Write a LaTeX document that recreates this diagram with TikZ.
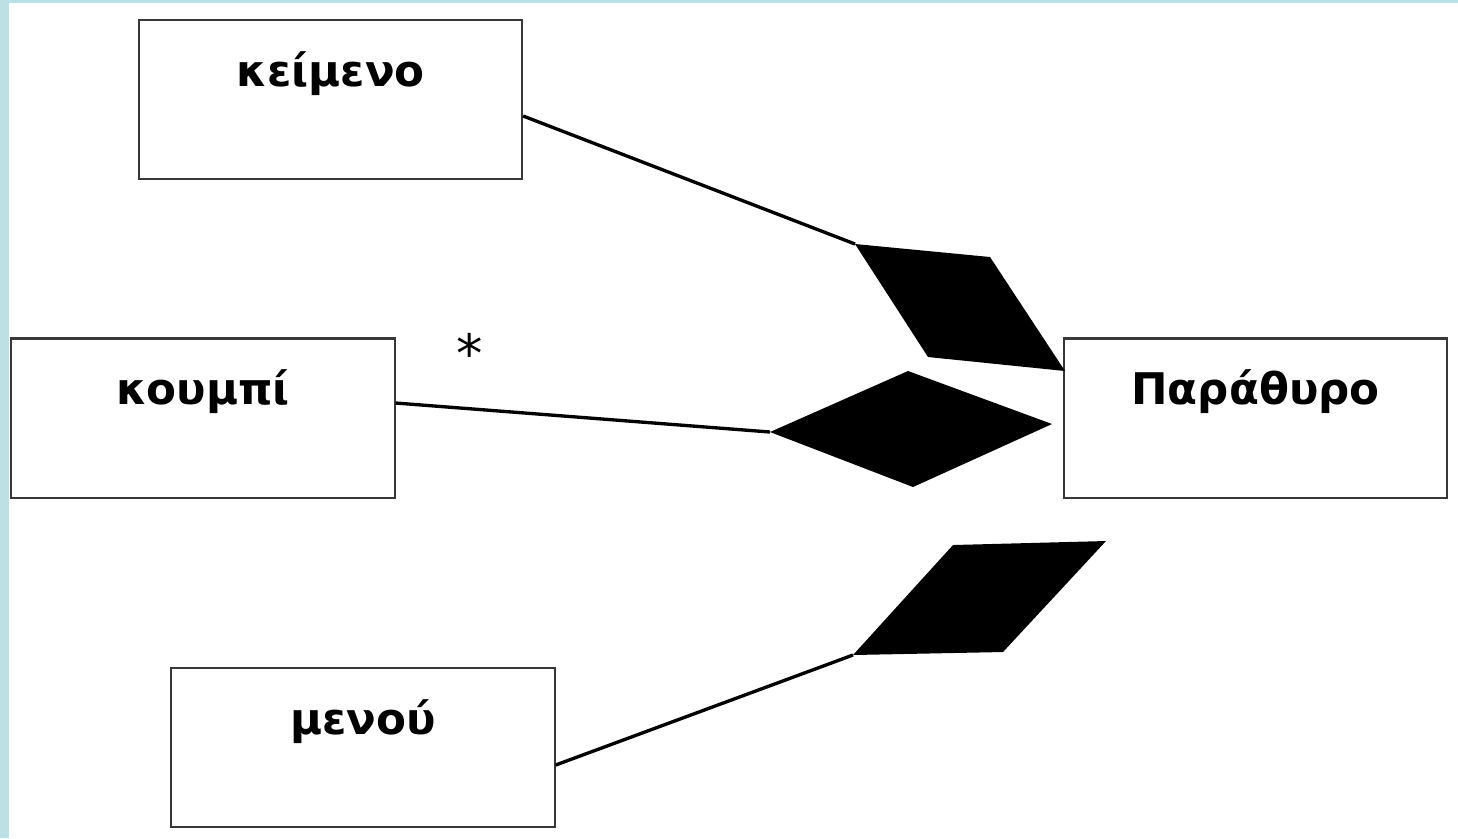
\documentclass[tikz,border=0pt]{standalone}
\usepackage{fontspec}
\setmainfont{DejaVu Sans}
\usepackage{xcolor}
\usepackage{tikz}
\usetikzlibrary{calc}

\definecolor{frameblue}{HTML}{BCE0E4}

\begin{document}
\begin{tikzpicture}[
  x=0.01cm, y=-0.01cm,
  box/.style={draw=black!78, line width=0.6pt, minimum width=3.83cm, minimum height=1.59cm, inner sep=0pt},
  lbl/.style={font=\bfseries\fontsize{12.4}{14}\selectfont, anchor=base, inner sep=0pt},
  link/.style={line width=0.95pt},
  dia/.style={fill=black}
]
\useasboundingbox (0,0) rectangle (1458,838);
\fill[frameblue] (0,0) rectangle (1458,838);
\fill[white] (8.5,2.5) rectangle (1458,838);

\node[box] (keimeno) at (330.5,99.5) {};
\node[box] (koumpi) at (203,418) {};
\node[box] (parathyro) at (1255.5,418) {};
\node[box] (menou) at (363,747.5) {};

\node[lbl] (keimenotxt) at ([yshift=-0.675cm]keimeno.north) {κείμενο};
\node[lbl] (koumpitxt) at ([yshift=-0.675cm]koumpi.north) {κουμπί};
\node[lbl] (parathyrotxt) at ([yshift=-0.675cm]parathyro.north) {Παράθυρο};
\node[lbl] (menoutxt) at ([yshift=-0.675cm]menou.north) {μενού};

\coordinate (d1a) at (855,244);
\coordinate (d1b) at (990,257);
\coordinate (d1c) at (1065,371);
\coordinate (d1d) at (928,357);
\coordinate (d2a) at (770,432);
\coordinate (d2b) at (908,371);
\coordinate (d2c) at (1052,424);
\coordinate (d2d) at (913,487);
\coordinate (d3a) at (853,655);
\coordinate (d3b) at (953,545);
\coordinate (d3c) at (1106,541);
\coordinate (d3d) at (1003,652);

\fill[dia] (d1a) -- (d1b) -- (d1c) -- (d1d) -- cycle;
\fill[dia] (d2a) -- (d2b) -- (d2c) -- (d2d) -- cycle;
\fill[dia] (d3a) -- (d3b) -- (d3c) -- (d3d) -- cycle;

\draw[link] ($(keimeno.east)+(0,16.5)$) -- (d1a);
\draw[link] ($(koumpi.east)+(0,-15)$) -- (d2a);
\draw[link] ($(menou.east)+(0,17.5)$) -- (d3a);

\node[font=\fontsize{15}{16}\selectfont, anchor=base, inner sep=0pt] (mult) at (470,372) {*};
\end{tikzpicture}
\end{document}
